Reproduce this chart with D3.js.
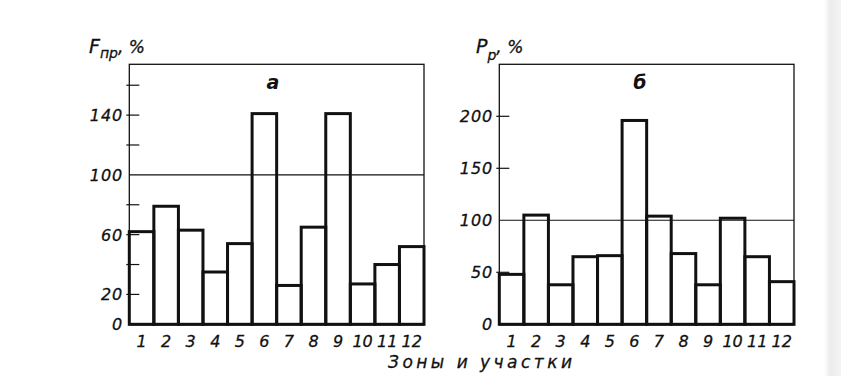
<!DOCTYPE html>
<html>
<head>
<meta charset="utf-8">
<script src="https://cdn.jsdelivr.net/npm/d3@7"></script>
<style>
  body { margin: 0; background: #fff; }
  text { font-family: "DejaVu Sans", sans-serif; font-style: oblique; fill: #111; }
</style>
</head>
<body>
<svg id="chart" width="841" height="376"></svg>
<script>
const zonas = ["1", "2", "3", "4", "5", "6", "7", "8", "9", "10", "11", "12"]
const valoresF = [62, 79, 63, 35, 54, 141, 26, 65, 141, 27, 40, 52]
const valoresP = [48, 105, 38, 65, 66, 196, 104, 68, 38, 102, 65, 41]
const ticksF = [20, 40, 60, 80, 120, 140, 160]
const etiquetasF = [0, 20, 60, 100, 140]
const ticksP = [50, 150, 200]
const etiquetasP = [0, 50, 100, 150, 200]

const svg = d3.select("#chart")

// borde gris del escaneo a la derecha
const grad = svg.append("defs").append("linearGradient").attr("id", "borde")
grad.append("stop").attr("offset", "0%").attr("stop-color", "#fff")
grad.append("stop").attr("offset", "35%").attr("stop-color", "#ececec")
grad.append("stop").attr("offset", "100%").attr("stop-color", "#f4f4f4")
svg.append("rect").attr("x", 824).attr("y", 0).attr("width", 17).attr("height", 376)
   .attr("fill", "url(#borde)")

const panel = (conf) => {
    const top = 64.3, bottom = 324.3
    const x = d3.scaleBand().domain(zonas).range([conf.left, conf.right]).padding(0)
    const y = d3.scaleLinear().domain([0, conf.max]).range([bottom, top])
    const g = svg.append("g")

    g.append("rect")
     .attr("x", conf.left).attr("y", top)
     .attr("width", conf.right - conf.left).attr("height", bottom - top)
     .attr("fill", "none").attr("stroke", "#111").attr("stroke-width", 1.3)

    g.append("line")
     .attr("x1", conf.left).attr("x2", conf.right)
     .attr("y1", y(100)).attr("y2", y(100))
     .attr("stroke", "#111").attr("stroke-width", 1.1)

    g.selectAll(".tick")
     .data(conf.ticks)
     .join("line")
     .attr("x1", conf.left - 3).attr("x2", conf.left + 10)
     .attr("y1", (d) => y(d)).attr("y2", (d) => y(d))
     .attr("stroke", "#111").attr("stroke-width", 1.2)

    g.selectAll(".lbl")
     .data(conf.labels)
     .join("text")
     .text((d) => d)
     .attr("x", conf.left - 6)
     .attr("y", (d) => y(d) + 6)
     .attr("text-anchor", "end")
     .attr("font-size", "16px")
     .attr("letter-spacing", "1px")
     .attr("stroke", "#111").attr("stroke-width", 0.3)

    g.selectAll(".bar")
     .data(conf.values)
     .join("rect")
     .attr("x", (_, i) => x(zonas[i]))
     .attr("y", (d) => y(d))
     .attr("width", x.bandwidth())
     .attr("height", (d) => bottom - y(d))
     .attr("fill", "none")
     .attr("stroke", "#111")
     .attr("stroke-width", 3)

    g.append("line")
     .attr("x1", conf.left).attr("x2", conf.right)
     .attr("y1", bottom).attr("y2", bottom)
     .attr("stroke", "#111").attr("stroke-width", 2.5)

    g.selectAll(".xl")
     .data(zonas)
     .join("text")
     .text((d) => d)
     .attr("x", (d) => x(d) + x.bandwidth() / 2)
     .attr("y", 347)
     .attr("text-anchor", "middle")
     .attr("font-size", "16px")
     .attr("stroke", "#111").attr("stroke-width", 0.3)

    g.append("text")
     .text(conf.letra)
     .attr("x", conf.letraX).attr("y", 89)
     .attr("text-anchor", "middle")
     .attr("font-size", "19px")
     .attr("font-weight", "bold")

    const t = g.append("text")
     .attr("x", conf.tituloX).attr("y", 53)
     .attr("font-size", "19px")
     .attr("stroke", "#111").attr("stroke-width", 0.3)
    t.append("tspan").text(conf.simbolo)
    t.append("tspan").text(conf.sub).attr("font-size", "14px").attr("dy", conf.subDy)
    t.append("tspan").text(", %").attr("dy", -conf.subDy).attr("font-size", "17px")
}

panel({left: 129.3, right: 424, max: 174, values: valoresF, ticks: ticksF,
       labels: etiquetasF, letra: "а", letraX: 273, simbolo: "F", sub: "пр",
       subDy: 5, tituloX: 89})
panel({left: 499.3, right: 794, max: 250, values: valoresP, ticks: ticksP,
       labels: etiquetasP, letra: "б", letraX: 640, simbolo: "P", sub: "р",
       subDy: 7, tituloX: 476})

svg.append("text")
   .text("Зоны и участки")
   .attr("x", 388).attr("y", 368)
   .attr("textLength", 184)
   .attr("lengthAdjust", "spacing")
   .attr("font-size", "17px")
   .attr("stroke", "#111").attr("stroke-width", 0.3)
</script>
</body>
</html>
